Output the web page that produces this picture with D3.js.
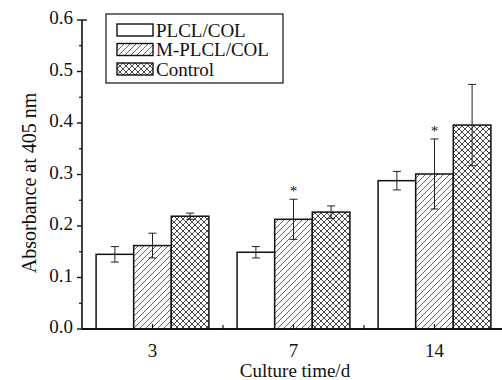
<html>
<script src="https://d3js.org/d3.v7.min.js"></script>
<style>
    body { margin: 0; background: #fff; }
    text { font-family: "Liberation Serif", "Times New Roman", serif; fill: #111; }
</style>
<body>
<svg id="chart" width="502" height="380"></svg>
<script>
// data
var categories = ["3", "7", "14"];
var seriesNames = ["PLCL/COL", "M-PLCL/COL", "Control"];
var plclValues = [0.145, 0.149, 0.288];
var plclErrors = [0.015, 0.011, 0.018];
var mplclValues = [0.162, 0.213, 0.301];
var mplclErrors = [0.024, 0.039, 0.068];
var controlValues = [0.219, 0.227, 0.396];
var controlErrors = [0.006, 0.012, 0.079];
var mplclStar = [false, true, true];
var yTicks = [0, 0.1, 0.2, 0.3, 0.4, 0.5, 0.6];

var seriesValues = [plclValues, mplclValues, controlValues];
var seriesErrors = [plclErrors, mplclErrors, controlErrors];
var fills = ["#fff", "url(#hatch)", "url(#cross)"];

var svg = d3.select("#chart");
var mLeft = 82, mRight = 505, mTop = 20, mBottom = 329;

var defs = svg.append("defs");
var hatch = defs.append("pattern").attr("id", "hatch")
    .attr("patternUnits", "userSpaceOnUse").attr("width", 6).attr("height", 6);
hatch.append("rect").attr("width", 6).attr("height", 6).attr("fill", "#fff");
hatch.append("path").attr("d", "M0,6 L6,0 M-1,1 L1,-1 M5,7 L7,5")
    .attr("stroke", "#555").attr("stroke-width", 0.9);

var cross = defs.append("pattern").attr("id", "cross")
    .attr("patternUnits", "userSpaceOnUse").attr("width", 6).attr("height", 6);
cross.append("rect").attr("width", 6).attr("height", 6).attr("fill", "#fff");
cross.append("path").attr("d", "M0,6 L6,0 M-1,1 L1,-1 M5,7 L7,5 M0,0 L6,6 M-1,5 L1,7 M5,-1 L7,1")
    .attr("stroke", "#333").attr("stroke-width", 0.9);

var x = d3.scaleBand().domain(categories).range([mLeft, mRight])
    .paddingInner(0.2).paddingOuter(0.1);
var xs = d3.scaleBand().domain(seriesNames).range([0, x.bandwidth()]);
var y = d3.scaleLinear().domain([0, 0.6]).range([mBottom, mTop]);

// bars
seriesNames.forEach(function(name, si) {
    var g = svg.append("g");
    g.selectAll("rect").data(categories).enter().append("rect")
        .attr("x", function(c) { return x(c) + xs(name); })
        .attr("y", function(c, i) { return y(seriesValues[si][i]); })
        .attr("width", xs.bandwidth())
        .attr("height", function(c, i) { return y(0) - y(seriesValues[si][i]); })
        .attr("fill", fills[si])
        .attr("stroke", "#111").attr("stroke-width", 1.5);

    // error bars
    categories.forEach(function(c, i) {
        var cx = x(c) + xs(name) + xs.bandwidth() / 2;
        var hi = y(seriesValues[si][i] + seriesErrors[si][i]);
        var lo = y(seriesValues[si][i] - seriesErrors[si][i]);
        g.append("line").attr("x1", cx).attr("x2", cx).attr("y1", hi).attr("y2", lo)
            .attr("stroke", "#222").attr("stroke-width", 1);
        [hi, lo].forEach(function(yy) {
            g.append("line").attr("x1", cx - 4).attr("x2", cx + 4).attr("y1", yy).attr("y2", yy)
                .attr("stroke", "#222").attr("stroke-width", 1);
        });
        if (si === 1 && mplclStar[i]) {
            g.append("text").attr("x", cx).attr("y", hi - 3)
                .attr("text-anchor", "middle").style("font-size", "15px").text("*");
        }
    });
});

// y axis
var yAxis = svg.append("g");
yAxis.append("line").attr("x1", mLeft).attr("x2", mLeft).attr("y1", mTop).attr("y2", mBottom)
    .attr("stroke", "#111").attr("stroke-width", 1.6);
yTicks.forEach(function(t) {
    yAxis.append("line").attr("x1", mLeft - 5).attr("x2", mLeft + (t === 0.6 ? 5 : 0))
        .attr("y1", y(t)).attr("y2", y(t)).attr("stroke", "#111").attr("stroke-width", 1.4);
    yAxis.append("text").attr("x", mLeft - 9).attr("y", y(t))
        .attr("text-anchor", "end").attr("dominant-baseline", "middle")
        .style("font-size", "19px").text(d3.format(".1f")(t));
    if (t < 0.6) {
        yAxis.append("line").attr("x1", mLeft - 3).attr("x2", mLeft)
            .attr("y1", y(t + 0.05)).attr("y2", y(t + 0.05)).attr("stroke", "#111").attr("stroke-width", 1.2);
    }
});

// x axis
var xAxis = svg.append("g");
xAxis.append("line").attr("x1", mLeft).attr("x2", 502).attr("y1", mBottom).attr("y2", mBottom)
    .attr("stroke", "#111").attr("stroke-width", 2.2);
categories.forEach(function(c, i) {
    var cx = x(c) + x.bandwidth() / 2;
    xAxis.append("line").attr("x1", cx).attr("x2", cx).attr("y1", mBottom).attr("y2", mBottom - 5)
        .attr("stroke", "#111").attr("stroke-width", 1.2);
    if (i < categories.length - 1) {
        var mx = cx + x.step() / 2;
        xAxis.append("line").attr("x1", mx).attr("x2", mx).attr("y1", mBottom).attr("y2", mBottom - 4)
            .attr("stroke", "#111").attr("stroke-width", 1.2);
    }
    xAxis.append("text").attr("x", cx).attr("y", 353)
        .attr("text-anchor", "middle").attr("dominant-baseline", "middle")
        .style("font-size", "19px").text(c);
});

// axis titles
svg.append("text").attr("x", 295).attr("y", 377).attr("text-anchor", "middle")
    .style("font-size", "19px").text("Culture time/d");
svg.append("text").attr("transform", "translate(36,183) rotate(-90)")
    .attr("text-anchor", "middle").style("font-size", "20px").text("Absorbance at 405 nm");

// legend
var legend = svg.append("g");
legend.append("rect").attr("x", 106).attr("y", 14).attr("width", 177).attr("height", 69)
    .attr("fill", "#fff").attr("stroke", "#111").attr("stroke-width", 1.2);
seriesNames.forEach(function(name, i) {
    var ry = 24 + i * 19.5;
    legend.append("rect").attr("x", 117).attr("y", ry).attr("width", 36).attr("height", 12)
        .attr("fill", fills[i]).attr("stroke", "#111").attr("stroke-width", 1.4);
    legend.append("text").attr("x", 156).attr("y", ry + 12.5)
        .style("font-size", "19px").text(name);
});
</script>
</body>
</html>
